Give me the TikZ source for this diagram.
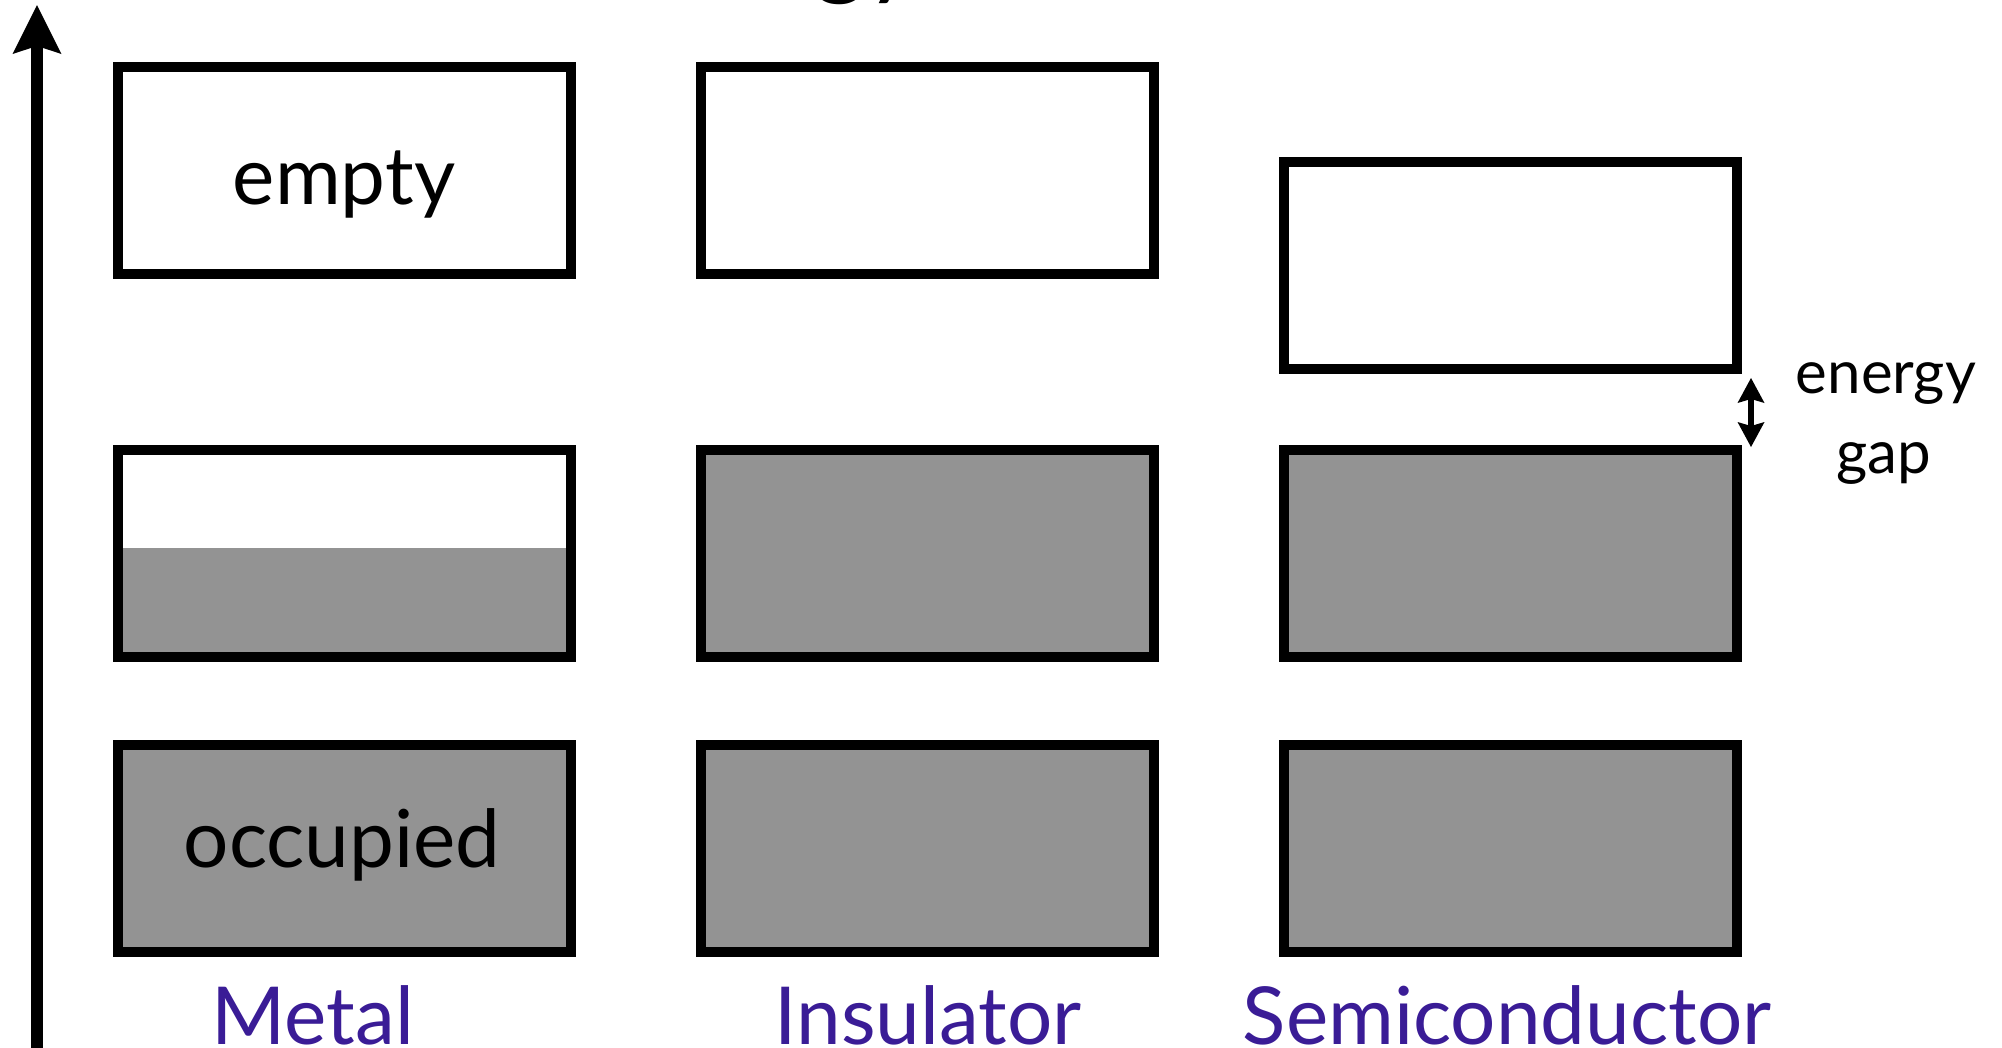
\documentclass[tikz,border=0pt]{standalone}
\usepackage{fontspec}
\setmainfont{Lato}
\usetikzlibrary{arrows.meta}
\definecolor{bandgray}{RGB}{147,147,147}
\definecolor{labelpurple}{RGB}{58,28,150}
\begin{document}
\begin{tikzpicture}[x=1pt,y=-1pt,
  band/.style={draw=black, line width=10pt, minimum width=453pt, minimum height=207pt, inner sep=0pt, outer sep=0pt},
  fullband/.style={band, fill=bandgray},
  emptyband/.style={band, fill=white},
  bigtext/.style={font=\fontsize{80}{90}\selectfont, inner sep=0pt, anchor=base},
  lbl/.style={bigtext, text=labelpurple},
  gaptext/.style={font=\fontsize{60}{70}\selectfont, inner sep=0pt, anchor=base},
  bigtip/.style={Stealth[length=49pt,width=49pt,inset=8pt,line width=0pt]},
  smalltip/.style={Stealth[length=25pt,width=27pt,inset=4pt,line width=0pt]}
]
\clip (0,0) rectangle (2002,1047);
% cut-off title
\node[font=\fontsize{100}{110}\selectfont, inner sep=0pt, anchor=base east] (title) at (918,-14) {Energy};
% axis
\coordinate (axbot) at (37,1070);
\coordinate (axtop) at (37,5);
\draw[line width=12pt, -{Stealth[length=49pt,width=49pt,inset=8pt,line width=0pt]}] (axbot) -- (axtop);
% metal
\node[emptyband] (mtop) at (344,170.5) {};
\node[band] (mmid) at (344,553.5) {};
\fill[bandgray] ([xshift=5pt,yshift=5pt]mmid.south west) rectangle ([xshift=-5pt]mmid.east |- 0,548);
\node[fullband] (mbot) at (344,848.5) {};
\node[bigtext] (emptytxt) at (344,204) {empty};
\node[bigtext] (occtxt) at (342,867) {occupied};
% insulator
\node[emptyband] (itop) at (927,170.5) {};
\node[fullband] (imid) at (927,553.5) {};
\node[fullband] (ibot) at (927,848.5) {};
% semiconductor
\node[emptyband] (stop) at (1510.5,265) {};
\node[fullband] (smid) at (1510.5,553.5) {};
\node[fullband] (sbot) at (1510.5,848.5) {};
% energy gap
\coordinate (gaptop) at (1751,378);
\coordinate (gapbot) at (1751,447);
\draw[line width=6pt, {Stealth[length=25pt,width=27pt,inset=4pt,line width=0pt]}-{Stealth[length=25pt,width=27pt,inset=4pt,line width=0pt]}] (gaptop) -- (gapbot);
\node[gaptext] (energytxt) at (1886,393) {energy};
\node[gaptext] (gaptxt) at (1884,473) {gap};
% labels
\node[lbl] (metal) at (313,1044) {Metal};
\node[lbl] (insul) at (928,1044) {Insulator};
\node[lbl] (semi) at (1507,1044) {Semiconductor};
\end{tikzpicture}
\end{document}
